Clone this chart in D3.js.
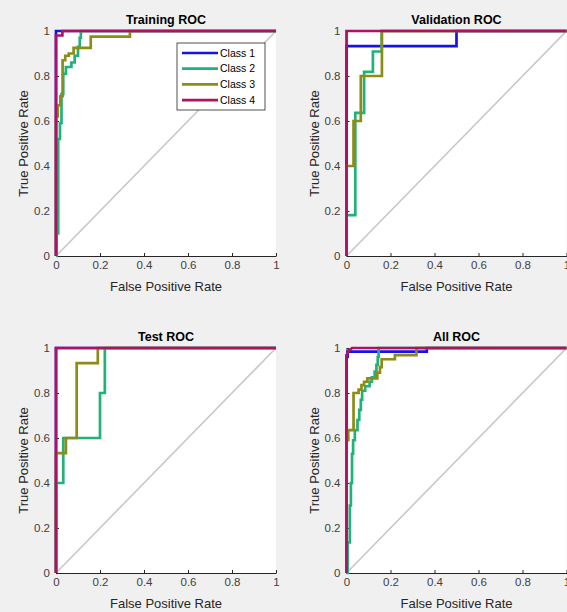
<!DOCTYPE html>
<html>
<head>
<meta charset="utf-8">
<script src="https://cdn.jsdelivr.net/npm/d3@7"></script>
<style>
  body { margin: 0; background: #f0f0f0; }
  svg { display: block; font-family: "Liberation Sans", Arial, sans-serif; }
</style>
</head>
<body>
<div id="chart"></div>
<script>
// ROC curves, as [false positive rate, true positive rate]
let classNames = ['Class 1', 'Class 2', 'Class 3', 'Class 4']
let classColors = ['#1414e6', '#21b279', '#8c8c18', '#b01262']
let xTicks = [0, 0.2, 0.4, 0.6, 0.8, 1]
let yTicks = [0, 0.2, 0.4, 0.6, 0.8, 1]
let tickLabels = ['0', '0.2', '0.4', '0.6', '0.8', '1']

let trainClass1 = [[0,0],[0,1],[1,1]]
let trainClass2 = [[0,0],[0.003,0],[0.003,0.1],[0.01,0.1],[0.01,0.52],[0.018,0.52],[0.018,0.59],[0.025,0.59],[0.025,0.72],[0.033,0.72],[0.033,0.81],[0.045,0.81],[0.045,0.84],[0.07,0.84],[0.07,0.86],[0.085,0.86],[0.085,0.89],[0.1,0.89],[0.1,0.93],[0.108,0.93],[0.108,0.97],[0.113,0.97],[0.113,1],[1,1]]
let trainClass3 = [[0,0],[0,0.62],[0.008,0.62],[0.008,0.67],[0.02,0.67],[0.02,0.71],[0.03,0.71],[0.03,0.87],[0.042,0.87],[0.042,0.89],[0.058,0.89],[0.058,0.9],[0.08,0.9],[0.08,0.925],[0.158,0.925],[0.158,0.975],[0.336,0.975],[0.336,1],[1,1]]
let trainClass4 = [[0,0],[0,0.98],[0.029,0.98],[0.029,1],[1,1]]

let valClass1 = [[0,0],[0,0.933],[0.5,0.933],[0.5,1],[1,1]]
let valClass2 = [[0,0],[0,0.182],[0.04,0.182],[0.04,0.636],[0.08,0.636],[0.08,0.818],[0.12,0.818],[0.12,0.909],[0.16,0.909],[0.16,1],[1,1]]
let valClass3 = [[0,0],[0,0.4],[0.032,0.4],[0.032,0.6],[0.065,0.6],[0.065,0.8],[0.161,0.8],[0.161,1],[1,1]]
let valClass4 = [[0,0],[0,1],[1,1]]

let testClass1 = [[0,0],[0,1],[1,1]]
let testClass2 = [[0,0],[0,0.4],[0.033,0.4],[0.033,0.6],[0.2,0.6],[0.2,0.8],[0.222,0.8],[0.222,1],[1,1]]
let testClass3 = [[0,0],[0,0.533],[0.045,0.533],[0.045,0.6],[0.094,0.6],[0.094,0.933],[0.19,0.933],[0.19,1],[1,1]]
let testClass4 = [[0,0],[0,1],[1,1]]

let allClass1 = [[0,0],[0,0.96],[0.005,0.96],[0.005,0.984],[0.365,0.984],[0.365,1],[1,1]]
let allClass2 = [[0,0],[0.005,0],[0.005,0.136],[0.015,0.136],[0.015,0.3],[0.02,0.3],[0.02,0.4],[0.025,0.4],[0.025,0.53],[0.03,0.53],[0.03,0.59],[0.038,0.59],[0.038,0.635],[0.05,0.635],[0.05,0.68],[0.058,0.68],[0.058,0.725],[0.065,0.725],[0.065,0.77],[0.071,0.77],[0.071,0.81],[0.085,0.81],[0.085,0.83],[0.105,0.83],[0.105,0.85],[0.115,0.85],[0.115,0.87],[0.128,0.87],[0.128,0.895],[0.136,0.895],[0.136,0.925],[0.142,0.925],[0.142,0.96],[0.146,0.96],[0.146,1],[1,1]]
let allClass3 = [[0,0],[0,0.59],[0.008,0.59],[0.008,0.635],[0.032,0.635],[0.032,0.8],[0.055,0.8],[0.055,0.815],[0.068,0.815],[0.068,0.835],[0.08,0.835],[0.08,0.85],[0.095,0.85],[0.095,0.865],[0.14,0.865],[0.14,0.89],[0.152,0.89],[0.152,0.915],[0.16,0.915],[0.16,0.95],[0.22,0.95],[0.22,0.968],[0.318,0.968],[0.318,1],[1,1]]
let allClass4 = [[0,0],[0,0.97],[0.005,0.975],[0.01,0.99],[0.02,0.995],[0.025,1],[1,1]]

let width = 567
let height = 612
let plotW = 220
let plotH = 225

let panels = [
  {title: 'Training ROC', left: 56, top: 31, curves: [trainClass1, trainClass2, trainClass3, trainClass4], legend: true},
  {title: 'Validation ROC', left: 346.5, top: 31, curves: [valClass1, valClass2, valClass3, valClass4]},
  {title: 'Test ROC', left: 56, top: 348, curves: [testClass1, testClass2, testClass3, testClass4]},
  {title: 'All ROC', left: 346.5, top: 348, curves: [allClass1, allClass2, allClass3, allClass4]}
]

const svg = d3.select('#chart')
  .append('svg')
  .attr('width', width)
  .attr('height', height)

svg.append('rect')
  .attr('width', width)
  .attr('height', height)
  .attr('fill', '#f0f0f0')

let xScale = d3.scaleLinear().domain([0, 1]).range([0, plotW])
let yScale = d3.scaleLinear().domain([0, 1]).range([plotH, 0])

let line = d3.line()
  .x(d => xScale(d[0]))
  .y(d => yScale(d[1]))

panels.forEach(function(p){

  let g = svg.append('g')
    .attr('transform', `translate(${p.left},${p.top})`)

  g.append('rect')
    .attr('width', plotW)
    .attr('height', plotH)
    .attr('fill', 'white')

  // chance diagonal
  g.append('path')
    .datum([[0,0],[1,1]])
    .attr('d', line)
    .attr('stroke', '#c8c8c8')
    .attr('stroke-width', 1.6)
    .attr('fill', 'none')

  let xAxis = g.append('g')
    .attr('transform', `translate(0,${plotH})`)
    .call(d3.axisBottom(xScale)
      .tickValues(xTicks)
      .tickFormat((d, i) => tickLabels[i])
      .tickSizeInner(-3)
      .tickSizeOuter(0)
      .tickPadding(5))

  let yAxis = g.append('g')
    .call(d3.axisLeft(yScale)
      .tickValues(yTicks)
      .tickFormat((d, i) => tickLabels[i])
      .tickSizeInner(-3)
      .tickSizeOuter(0)
      .tickPadding(6))

  ;[xAxis, yAxis].forEach(function(a){
    a.select('.domain').attr('stroke', '#262626')
    a.selectAll('.tick line').attr('stroke', '#262626')
    a.selectAll('.tick text')
      .attr('fill', '#404040')
      .style('font-size', '11.5px')
      .style('font-family', '"Liberation Sans", Arial, sans-serif')
  })

  p.curves.forEach(function(c, i){
    g.append('path')
      .datum(c)
      .attr('d', line)
      .attr('stroke', classColors[i])
      .attr('stroke-width', 2.7)
      .attr('fill', 'none')
  })

  g.append('text')
    .attr('x', plotW / 2)
    .attr('y', -7)
    .attr('text-anchor', 'middle')
    .attr('font-size', 12.5)
    .attr('font-weight', 'bold')
    .attr('fill', '#000')
    .text(p.title)

  g.append('text')
    .attr('x', plotW / 2)
    .attr('y', plotH + 35)
    .attr('text-anchor', 'middle')
    .attr('font-size', 13)
    .attr('fill', '#262626')
    .text('False Positive Rate')

  g.append('text')
    .attr('transform', `translate(-28,${plotH / 2}) rotate(-90)`)
    .attr('text-anchor', 'middle')
    .attr('font-size', 13)
    .attr('fill', '#262626')
    .text('True Positive Rate')

  if (p.legend){

    let lg = g.append('g')
      .attr('transform', 'translate(121,12)')

    lg.append('rect')
      .attr('width', 88)
      .attr('height', 67)
      .attr('fill', 'white')
      .attr('stroke', '#262626')
      .attr('stroke-width', 0.8)

    classNames.forEach(function(name, i){

      lg.append('line')
        .attr('x1', 5)
        .attr('x2', 41)
        .attr('y1', 10 + i * 15.7)
        .attr('y2', 10 + i * 15.7)
        .attr('stroke', classColors[i])
        .attr('stroke-width', 2.7)

      lg.append('text')
        .attr('x', 43)
        .attr('y', 10 + i * 15.7)
        .attr('dy', '0.35em')
        .attr('font-size', 10.5)
        .attr('fill', '#000')
        .text(name)
    })
  }
})
</script>
</body>
</html>
